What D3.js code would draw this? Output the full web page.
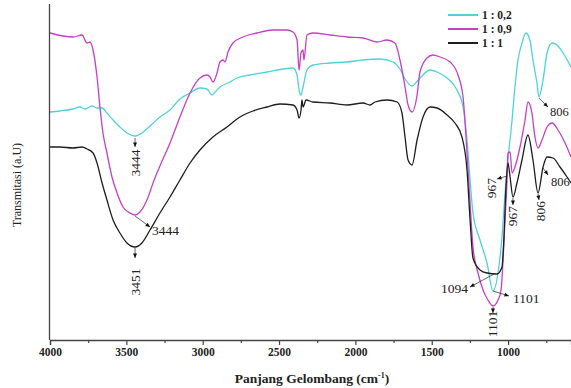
<!DOCTYPE html>
<html>
<head>
<meta charset="utf-8">
<script src="https://cdn.jsdelivr.net/npm/d3@7/dist/d3.min.js"></script>
<style>
  body { margin: 0; background: #fff; }
  svg { display: block; }
  text { font-family: "Liberation Serif", "Times New Roman", serif; fill: #222; }
</style>
</head>
<body>
<svg id="chart" width="571" height="388"></svg>
<script>
// series labels
const seriesNames = ["1 : 0,2", "1 : 0,9", "1 : 1"];

// 1 : 0,2 (cyan)
const wnC = [4000,3935,3849,3804,3771,3725,3692,3659,3627,3587,3542,3496,3443,3398,3345,3280,3214,3149,3083,3018,2972,2939,2919,2887,2834,2775,2690,2579,2474,2409,2382,2369,2356,2343,2317,2278,2166,2055,1950,1839,1754,1708,1675,1629,1577,1511,1465,1400,1335,1295,1269,1249,1230,1184,1138,1099,1066,1040,1020,1001,974,955,935,909,883,857,837,811,798,771,745,712,680,640,588];
const tC  = [228,229,231,233,231,234,232,232,227,220,213,207,204,207,214,223,230,241,247,252,251,245,248,253,257,262,265,268,271,272,265,250,245,253,270,275,277,278,280,281,278,271,261,254,262,270,268,262,250,233,200,160,127,100,77,49,67,103,147,180,220,253,280,297,307,300,280,257,243,260,287,297,295,287,273];

// 1 : 0,9 (magenta)
const wnM = [4000,3915,3849,3790,3758,3738,3718,3692,3673,3653,3627,3594,3561,3522,3476,3443,3411,3365,3325,3280,3214,3149,3083,3018,2972,2952,2933,2906,2887,2867,2854,2834,2802,2736,2644,2540,2448,2409,2382,2369,2356,2343,2337,2317,2278,2166,2055,1950,1858,1793,1741,1708,1675,1655,1629,1596,1577,1531,1492,1446,1380,1328,1295,1269,1249,1230,1197,1164,1132,1099,1066,1046,1033,1020,1007,1001,987,974,955,922,889,870,844,824,804,778,745,712,673,627,588];
const tM  = [307,304,303,305,297,298,290,263,233,207,187,163,147,133,127,125,128,140,157,174,197,223,247,262,265,263,258,267,278,280,278,288,297,303,307,310,310,308,300,270,287,290,280,305,307,305,303,302,298,300,297,280,253,235,228,245,268,282,285,283,278,265,243,187,137,93,67,50,40,34,40,50,80,120,160,187,188,167,173,193,220,238,227,203,192,200,213,217,210,197,183];

// 1 : 1 (black)
const wnK = [4000,3935,3849,3790,3758,3718,3692,3659,3627,3587,3542,3496,3443,3398,3345,3280,3214,3149,3083,3018,2933,2841,2756,2671,2579,2494,2409,2382,2369,2356,2350,2343,2323,2278,2166,2055,1950,1904,1872,1793,1727,1695,1675,1655,1629,1596,1557,1511,1465,1400,1348,1302,1269,1249,1230,1184,1138,1073,1040,1027,1014,1001,987,968,942,909,870,837,804,771,745,706,660,614,588];
const tK  = [193,193,192,193,191,187,177,157,140,120,107,97,93,97,110,127,143,160,177,190,203,213,223,229,233,236,235,230,222,230,240,233,240,238,237,235,237,235,238,240,238,227,203,180,175,200,223,233,232,225,217,203,170,120,82,70,67,66,73,103,153,177,163,143,157,180,205,180,147,173,183,182,173,163,157];

const seriesColors = ["#4fd3d8", "#c63fc6", "#1e1e1e"];

// axis ticks
const xTicks = [4000, 3500, 3000, 2500, 2000, 1500, 1000];
const xMinor = [3750, 3250, 2750, 2250, 1750, 1250, 750];

// peak labels: text, anchor (wavenumber, value), arrow end / text offsets in px
const peakLabels = [
  { text: "3444", wn: 3443, t: 202, ax: 0,   ay: 9,  tx: 0,   ty: 25, rot: true },
  { text: "3444", wn: 3443, t: 124, ax: 15,  ay: 11, tx: 17,  ty: 14, rot: false, anchor: "start" },
  { text: "3451", wn: 3443, t: 92,  ax: 0,   ay: 10, tx: 0,   ty: 34, rot: true },
  { text: "1094", wn: 1092, t: 66,  ax: -24, ay: 13, tx: -26, ty: 14, rot: false, anchor: "end" },
  { text: "1101", wn: 1099, t: 49,  ax: 16,  ay: 5,  tx: 20,  ty: 7,  rot: false, anchor: "start" },
  { text: "1101", wn: 1099, t: 33,  ax: 0,   ay: 6,  tx: 0,   ty: 17, rot: true },
  { text: "967",  wn: 1007, t: 164, ax: -10, ay: 3,  tx: -16, ty: 12, rot: true },
  { text: "967",  wn: 968,  t: 142, ax: 0,   ay: 7,  tx: 0,   ty: 18, rot: true },
  { text: "806",  wn: 804,  t: 146, ax: 1,   ay: 6,  tx: 2,   ty: 17, rot: true },
  { text: "806",  wn: 798,  t: 242, ax: 9,   ay: 9,  tx: 11,  ty: 14, rot: false, anchor: "start", size: 12.5 },
  { text: "806",  wn: 771,  t: 172, ax: 5,   ay: 7,  tx: 8,   ty: 14, rot: false, anchor: "start", size: 12.5 }
];

const svg = d3.select("#chart");

const x = d3.scaleLinear().domain([4000, 588]).range([50, 571]);
const y = d3.scaleLinear().domain([0, 332]).range([340, 8]);

const series = [
  { name: seriesNames[0], wn: wnC, t: tC, color: seriesColors[0] },
  { name: seriesNames[1], wn: wnM, t: tM, color: seriesColors[1] },
  { name: seriesNames[2], wn: wnK, t: tK, color: seriesColors[2] }
];

const line = d3.line()
  .x(d => x(d[0]))
  .y(d => y(d[1]))
  .curve(d3.curveMonotoneX);

svg.append("g")
  .selectAll("path")
  .data(series)
  .join("path")
  .attr("fill", "none")
  .attr("stroke", d => d.color)
  .attr("stroke-width", 1.3)
  .attr("stroke-linejoin", "round")
  .attr("d", d => line(d.wn.map((w, i) => [w, d.t[i]])));

// axes
const xAxis = svg.append("g")
  .attr("transform", "translate(0,340)")
  .call(d3.axisBottom(x).tickValues(xTicks).tickSize(5).tickPadding(3).tickFormat(d3.format("d")));
xAxis.select(".domain").attr("stroke", "#444").attr("stroke-width", 1.3);
xAxis.selectAll(".tick line").attr("stroke", "#444").attr("stroke-width", 1.2);
xAxis.selectAll(".tick text")
  .style("font-family", "Liberation Serif, serif")
  .style("font-size", "11.5px")
  .style("font-weight", "bold")
  .attr("fill", "#333");

const xAxisMinor = svg.append("g")
  .attr("transform", "translate(0,340)")
  .call(d3.axisBottom(x).tickValues(xMinor).tickSize(3).tickFormat(""));
xAxisMinor.select(".domain").remove();
xAxisMinor.selectAll(".tick line").attr("stroke", "#444").attr("stroke-width", 1.2);

svg.append("line")
  .attr("x1", 49.5).attr("x2", 49.5)
  .attr("y1", 4).attr("y2", 340)
  .attr("stroke", "#444").attr("stroke-width", 1.3);

// axis titles
const xt = svg.append("text")
  .attr("x", 312).attr("y", 383)
  .attr("text-anchor", "middle")
  .style("font-size", "13.5px")
  .style("font-weight", "bold")
  .attr("fill", "#333");
xt.append("tspan").text("Panjang Gelombang (cm");
xt.append("tspan").attr("dy", -5).style("font-size", "8px").text("-1");
xt.append("tspan").attr("dy", 5).text(")");

svg.append("text")
  .attr("transform", "translate(21,185) rotate(-90)")
  .attr("text-anchor", "middle")
  .style("font-size", "12px")
  .attr("fill", "#333")
  .text("Transmitasi (a.U)");

// legend
const legend = svg.append("g");
series.forEach((s, i) => {
  const ly = 15 + i * 14;
  legend.append("line")
    .attr("x1", 448).attr("x2", 478)
    .attr("y1", ly).attr("y2", ly)
    .attr("stroke", s.color).attr("stroke-width", 2);
  legend.append("text")
    .attr("x", 482).attr("y", ly)
    .attr("dominant-baseline", "central")
    .style("font-size", "11.5px")
    .style("font-weight", "bold")
    .attr("fill", "#333")
    .text(s.name);
});

// peak annotations
const ann = svg.append("g");
peakLabels.forEach(p => {
  const px = x(p.wn), py = y(p.t);
  const ex = px + p.ax, ey = py + p.ay;
  ann.append("line")
    .attr("x1", px).attr("y1", py)
    .attr("x2", ex).attr("y2", ey)
    .attr("stroke", "#222").attr("stroke-width", 0.7);
  const ang = Math.atan2(p.ay, p.ax) * 180 / Math.PI;
  ann.append("path")
    .attr("d", "M0,0 L-4.5,-2 L-4.5,2 Z")
    .attr("fill", "#111")
    .attr("transform", `translate(${ex},${ey}) rotate(${ang})`);
  const t = ann.append("text")
    .style("font-size", (p.size || 13.5) + "px")
    .attr("fill", "#222")
    .attr("dominant-baseline", "central")
    .text(p.text);
  if (p.rot) {
    t.attr("text-anchor", "middle")
     .attr("transform", `translate(${px + p.tx},${py + p.ty}) rotate(-90)`);
  } else {
    t.attr("text-anchor", p.anchor)
     .attr("x", px + p.tx).attr("y", py + p.ty);
  }
});
</script>
</body>
</html>
